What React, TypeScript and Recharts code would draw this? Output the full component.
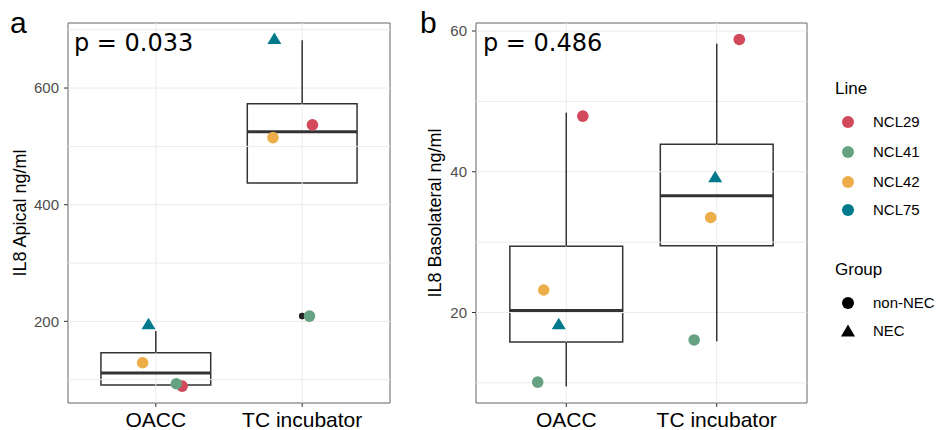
import * as React from 'react'
import {
  ComposedChart,
  XAxis,
  YAxis,
  Scatter,
  ReferenceLine,
  ReferenceArea,
} from 'recharts'

// groups on the x axis
const categories = ['OACC', 'TC incubator']

// cell lines, their colours and NEC status
const lines = ['NCL29', 'NCL41', 'NCL42', 'NCL75']
const lineColors = ['#D1495B', '#66A182', '#EDAE49', '#00798C']
const lineGroups = ['non-NEC', 'non-NEC', 'non-NEC', 'NEC']
const groups = ['non-NEC', 'NEC']

// IL8 apical (ng/ml), one value per line, in line order
const apicalOACC = [89, 93, 129, 196]
const apicalTC = [537, 209, 515, 685]
// horizontal jitter of the points, in category units
const apicalJitterOACC = [0.18, 0.14, -0.09, -0.05]
const apicalJitterTC = [0.07, 0.05, -0.2, -0.19]
// box stats: [lower whisker, q1, median, q3, upper whisker]
const apicalBoxOACC = [91, 91, 111.5, 146, 183.5]
const apicalBoxTC = [437, 437, 525, 573, 682]
const apicalOutliersTC = [209]
const apicalTicks = [200, 400, 600]
const apicalGrid = [100, 200, 300, 400, 500, 600, 700]

// IL8 basolateral (ng/ml)
const basoOACC = [47.9, 10.1, 23.2, 18.4]
const basoTC = [58.8, 16.1, 33.5, 39.3]
const basoJitterOACC = [0.11, -0.19, -0.15, -0.05]
const basoJitterTC = [0.15, -0.15, -0.04, -0.01]
const basoBoxOACC = [9.5, 15.8, 20.3, 29.4, 48.4]
const basoBoxTC = [15.9, 29.5, 36.6, 43.9, 58.2]
const basoTicks = [20, 40, 60]
const basoGrid = [10, 20, 30, 40, 50, 60]

const BOX_HALF = 0.375
const FONT = '"Liberation Sans", Arial, sans-serif'

type Pt = { x: number; y: number; line: number }

const buildPoints = (vals: number[][], jit: number[][]): Pt[] => {
  const out: Pt[] = []
  vals.forEach((arr, c) =>
    arr.forEach((v, i) => out.push({ x: c + 1 + jit[c][i], y: v, line: i }))
  )
  return out
}

const PointShape = (props: any) => {
  const { cx, cy, payload } = props
  if (cx == null || cy == null) return <g />
  const color = lineColors[payload.line]
  if (lineGroups[payload.line] === 'NEC') {
    return (
      <polygon
        points={`${cx},${cy - 6} ${cx - 7},${cy + 5.5} ${cx + 7},${cy + 5.5}`}
        fill={color}
      />
    )
  }
  return <circle cx={cx} cy={cy} r={5.8} fill={color} />
}

const OutlierShape = (props: any) => {
  const { cx, cy } = props
  if (cx == null || cy == null) return <g />
  return <circle cx={cx} cy={cy} r={3.3} fill="#222" />
}

interface PanelProps {
  domain: [number, number]
  ticks: number[]
  grid: number[]
  boxes: number[][]
  points: Pt[]
  outliers: { x: number; y: number }[]
  yWidth: number
  rightMargin: number
}

const Panel = ({ domain, ticks, grid, boxes, points, outliers, yWidth, rightMargin }: PanelProps) => (
  <ComposedChart
    width={420}
    height={430}
    margin={{ top: 23, right: rightMargin, bottom: 0, left: 0 }}
  >
    <XAxis
      type="number"
      dataKey="x"
      domain={[0.4, 2.6]}
      ticks={[1, 2]}
      allowDataOverflow
      tickFormatter={(v: number) => categories[v - 1]}
      axisLine={false}
      tickLine={{ stroke: '#333' }}
      tickSize={4}
      tickMargin={5}
      height={27}
      tick={{ fill: '#000', fontSize: 21, fontFamily: FONT }}
    />
    <YAxis
      type="number"
      dataKey="y"
      domain={domain}
      ticks={ticks}
      allowDataOverflow
      axisLine={false}
      tickLine={{ stroke: '#333' }}
      tickSize={4}
      tickMargin={5}
      width={yWidth}
      tick={{ fill: '#4d4d4d', fontSize: 15, fontFamily: FONT }}
    />
    {grid.map((g) => (
      <ReferenceLine key={'h' + g} y={g} stroke="#ebebeb" strokeWidth={1} />
    ))}
    {[1, 2].map((c) => (
      <ReferenceLine key={'v' + c} x={c} stroke="#ebebeb" strokeWidth={1} />
    ))}
    {boxes.map((b, i) => {
      const c = i + 1
      return (
        <React.Fragment key={'box' + c}>
          <ReferenceLine
            segment={[{ x: c, y: b[3] }, { x: c, y: b[4] }]}
            stroke="#333"
            strokeWidth={1.5}
          />
          <ReferenceLine
            segment={[{ x: c, y: b[0] }, { x: c, y: b[1] }]}
            stroke="#333"
            strokeWidth={1.5}
          />
          <ReferenceArea
            x1={c - BOX_HALF}
            x2={c + BOX_HALF}
            y1={b[1]}
            y2={b[3]}
            fill="#fff"
            fillOpacity={1}
            stroke="#333"
            strokeWidth={1.5}
          />
          <ReferenceLine
            segment={[{ x: c - BOX_HALF, y: b[2] }, { x: c + BOX_HALF, y: b[2] }]}
            stroke="#333"
            strokeWidth={3}
          />
        </React.Fragment>
      )
    })}
    <ReferenceArea
      x1={0.4}
      x2={2.6}
      y1={domain[0]}
      y2={domain[1]}
      fill="none"
      stroke="#666"
      strokeWidth={1}
    />
    <Scatter data={outliers} shape={OutlierShape} isAnimationActive={false} />
    <Scatter data={points} shape={PointShape} isAnimationActive={false} />
  </ComposedChart>
)

const textAbs = (left: number, top: number, size: number, family: string): React.CSSProperties => ({
  position: 'absolute',
  left,
  top,
  fontSize: size,
  fontFamily: family,
  lineHeight: 1,
  whiteSpace: 'nowrap',
  color: '#000',
})

const yTitle = (cx: number, cy: number, text: string) => (
  <div
    style={{
      position: 'absolute',
      left: cx - 150,
      top: cy - 10,
      width: 300,
      height: 20,
      lineHeight: '20px',
      textAlign: 'center',
      fontSize: 18,
      fontFamily: FONT,
      transform: 'rotate(-90deg)',
      whiteSpace: 'nowrap',
    }}
  >
    {text}
  </div>
)

const legendLineY = [122, 152, 181.5, 210]
const legendGroupY = [303, 331]

export default function App() {
  const apicalPoints = buildPoints([apicalOACC, apicalTC], [apicalJitterOACC, apicalJitterTC])
  const basoPoints = buildPoints([basoOACC, basoTC], [basoJitterOACC, basoJitterTC])
  const apicalOut = apicalOutliersTC.map((y) => ({ x: 2, y }))

  return (
    <div style={{ position: 'absolute', left: 0, top: 0, width: 937, height: 430, background: '#fff' }}>
      <div style={{ position: 'absolute', left: 0, top: 0 }}>
        <Panel
          domain={[60, 711.5]}
          ticks={apicalTicks}
          grid={apicalGrid}
          boxes={[apicalBoxOACC, apicalBoxTC]}
          points={apicalPoints}
          outliers={apicalOut}
          yWidth={68}
          rightMargin={30}
        />
      </div>
      <div style={{ position: 'absolute', left: 420, top: 0 }}>
        <Panel
          domain={[7.14, 61.14]}
          ticks={basoTicks}
          grid={basoGrid}
          boxes={[basoBoxOACC, basoBoxTC]}
          points={basoPoints}
          outliers={[]}
          yWidth={56}
          rightMargin={33}
        />
      </div>

      <div style={textAbs(10, 8, 30, FONT)}>a</div>
      <div style={textAbs(420, 8, 30, FONT)}>b</div>
      <div style={textAbs(74, 31, 24, '"DejaVu Sans", sans-serif')}>p = 0.033</div>
      <div style={textAbs(483, 31, 24, '"DejaVu Sans", sans-serif')}>p = 0.486</div>
      {yTitle(20, 213, 'IL8 Apical ng/ml')}
      {yTitle(435, 213, 'IL8 Basolateral ng/ml')}

      <div style={textAbs(835, 80, 17, FONT)}>Line</div>
      {lines.map((l, i) => (
        <React.Fragment key={l}>
          <svg style={{ position: 'absolute', left: 840, top: legendLineY[i] - 8 }} width={16} height={16}>
            <circle cx={8} cy={8} r={6} fill={lineColors[i]} />
          </svg>
          <div style={{ ...textAbs(873, legendLineY[i] - 8, 15, FONT), lineHeight: '16px' }}>{l}</div>
        </React.Fragment>
      ))}
      <div style={textAbs(835, 261, 17, FONT)}>Group</div>
      {groups.map((g, i) => (
        <React.Fragment key={g}>
          <svg style={{ position: 'absolute', left: 840, top: legendGroupY[i] - 8 }} width={16} height={16}>
            {g === 'NEC' ? (
              <polygon points="8,1.5 1,13.5 15,13.5" fill="#000" />
            ) : (
              <circle cx={8} cy={8} r={6} fill="#000" />
            )}
          </svg>
          <div style={{ ...textAbs(873, legendGroupY[i] - 8, 15, FONT), lineHeight: '16px' }}>{g}</div>
        </React.Fragment>
      ))}
    </div>
  )
}
